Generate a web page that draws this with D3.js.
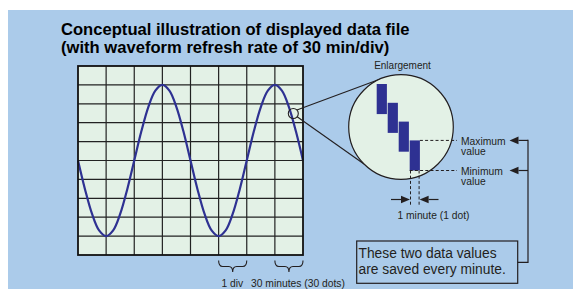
<!DOCTYPE html>
<html><head><meta charset="utf-8">
<script src="https://cdn.jsdelivr.net/npm/d3@7"></script>
<style>html,body{margin:0;padding:0;background:#fff;}svg{display:block;}</style>
</head><body>
<svg id="c" width="573" height="289"></svg>
<script>
// ---- data ----
const titleLines = ["Conceptual illustration of displayed data file", "(with waveform refresh rate of 30 min/div)"];
const gridCols = [0,1,2,3,4,5,6,7,8];
const gridRows = [-5,-4,-3,-2,-1,0,1,2,3,4,5];
const waveTime = [0,0.25,0.5,0.75,1,1.25,1.5,1.75,2,2.25,2.5,2.75,3,3.25,3.5,3.75,4,4.25,4.5,4.75,5,5.25,5.5,5.75,6,6.25,6.5,6.75,7,7.25,7.5,7.75,8];
const waveValue = [0,-1.53,-2.83,-3.7,-4,-3.7,-2.83,-1.53,0,1.53,2.83,3.7,4,3.7,2.83,1.53,0,-1.53,-2.83,-3.7,-4,-3.7,-2.83,-1.53,0,1.53,2.83,3.7,4,3.7,2.83,1.53,0];
const dotIndex = [0,1,2,3];
const dotMax = [4,3,2,1];
const dotMin = [2.4,1.4,0.4,-0.6];
const braceLabels = ["1 div", "30 minutes (30 dots)"];
const braceCols = [[5,6],[7,8]];
const boxLines = ["These two data values", "are saved every minute."];

// ---- drawing ----
const svg = d3.select("#c");
const ink = "#231f20", bg = "#abcbea", screen = "#e3f1e6", wave = "#2e3192";
const font = "Liberation Sans, Arial, sans-serif";

svg.append("rect").attr("x",8).attr("y",10).attr("width",565).attr("height",279).attr("fill",bg);

svg.selectAll("text.title").data(titleLines).join("text")
  .attr("x",61).attr("y",(d,i)=>34.7+i*18.7)
  .attr("font-family",font).attr("font-weight","bold")
  .attr("font-size",16.6).attr("fill","#000").text(d=>d);

const x = d3.scaleLinear().domain([0,8]).range([78,303]);
const y = d3.scaleLinear().domain([-5,5]).range([255,66]);

svg.append("rect").attr("x",x(0)).attr("y",y(5)).attr("width",x(8)-x(0)).attr("height",y(-5)-y(5)).attr("fill",screen);
svg.selectAll("line.v").data(gridCols.slice(1,-1)).join("line")
  .attr("x1",d=>x(d)).attr("x2",d=>x(d)).attr("y1",y(5)).attr("y2",y(-5))
  .attr("stroke","#222").attr("stroke-width",1.2);
svg.selectAll("line.h").data(gridRows.slice(1,-1)).join("line")
  .attr("y1",d=>y(d)).attr("y2",d=>y(d)).attr("x1",x(0)).attr("x2",x(8))
  .attr("stroke","#222").attr("stroke-width",1.2);

const line = d3.line().x((d,i)=>x(waveTime[i])).y(d=>y(d)).curve(d3.curveCatmullRom);
svg.append("path").attr("d",line(waveValue)).attr("fill","none").attr("stroke",wave).attr("stroke-width",2.2);

svg.append("rect").attr("x",x(0)).attr("y",y(5)).attr("width",x(8)-x(0)).attr("height",y(-5)-y(5))
  .attr("fill","none").attr("stroke","#111").attr("stroke-width",1.8);

// small circle and enlargement
const sc = {x:293.3, y:113.5, r:5};
const bc = {x:401, y:127, r:52.3};
const pt = (c,a,r)=>[c.x+(r??c.r)*Math.cos(a*Math.PI/180), c.y+(r??c.r)*Math.sin(a*Math.PI/180)];
[[-44,-114],[40,135]].forEach(([a1,a2])=>{
  const p1 = pt(sc,a1), p2 = pt(bc,a2);
  svg.append("line").attr("x1",p1[0]).attr("y1",p1[1]).attr("x2",p2[0]).attr("y2",p2[1]).attr("stroke",ink).attr("stroke-width",1.1);
});
svg.append("circle").attr("cx",sc.x).attr("cy",sc.y).attr("r",sc.r).attr("fill","none").attr("stroke",ink).attr("stroke-width",1.1);
svg.append("circle").attr("cx",bc.x).attr("cy",bc.y).attr("r",bc.r).attr("fill",screen).attr("stroke",ink).attr("stroke-width",1.2);

svg.append("text").attr("x",402.5).attr("y",69).attr("text-anchor","middle")
  .attr("font-family",font).attr("font-size",10).attr("fill",ink).text("Enlargement");

const ex = d3.scaleLinear().domain([0,3]).range([376.7,409.7]);
const ey = d3.scaleLinear().domain([-0.6,4]).range([170.5,84]);
const dotW = 10.2;
svg.selectAll("rect.dot").data(dotIndex).join("rect")
  .attr("x",d=>ex(d)).attr("width",dotW)
  .attr("y",d=>ey(dotMax[d])).attr("height",d=>ey(dotMin[d])-ey(dotMax[d]))
  .attr("fill",wave);

const last = dotIndex[dotIndex.length-1];
const xL = ex(last), xR = ex(last)+dotW;
const yMax = ey(dotMax[last]), yMin = ey(dotMin[last]);
const dash = "3,2.2";
svg.append("line").attr("x1",xR).attr("x2",457).attr("y1",yMax).attr("y2",yMax).attr("stroke",ink).attr("stroke-dasharray",dash).attr("stroke-width",1);
svg.append("line").attr("x1",xL).attr("x2",457).attr("y1",yMin).attr("y2",yMin).attr("stroke",ink).attr("stroke-dasharray",dash).attr("stroke-width",1);
[xL+0.8,xR-0.8].forEach(xx=>{
  svg.append("line").attr("x1",xx).attr("x2",xx).attr("y1",yMin).attr("y2",206).attr("stroke",ink).attr("stroke-dasharray",dash).attr("stroke-width",1);
});

function arrow(xTail, xTip, yy){
  const dir = Math.sign(xTip-xTail), L=9, W=3.8;
  svg.append("line").attr("x1",xTail).attr("x2",xTip-dir*L).attr("y1",yy).attr("y2",yy).attr("stroke",ink).attr("stroke-width",1.2);
  svg.append("path").attr("d",`M${xTip},${yy}L${xTip-dir*L},${yy-W}L${xTip-dir*L},${yy+W}Z`).attr("fill",ink);
}
arrow(391, xL+0.3, 199.5);
arrow(438.5, xR-0.3, 199.5);
svg.append("text").attr("x",433.5).attr("y",219).attr("text-anchor","middle")
  .attr("font-family",font).attr("font-size",10.3).attr("fill",ink).text("1 minute (1 dot)");

const sideText = [["Maximum","value"],["Minimum","value"]];
[yMax,yMin].forEach((yy,k)=>{
  const t = svg.append("text").attr("x",461).attr("y",yy+4.5)
    .attr("font-family",font).attr("font-size",10.3).attr("fill",ink);
  t.selectAll("tspan").data(sideText[k]).join("tspan").attr("x",461).attr("dy",(d,i)=>i===0?0:10).text(d=>d);
  arrow(528, 509.5, yy);
});
svg.append("path").attr("d",`M528,${yMax-0.6}V262.3H517.5`).attr("fill","none").attr("stroke",ink).attr("stroke-width",1.2);

svg.append("rect").attr("x",356.7).attr("y",241).attr("width",161).attr("height",42.3).attr("fill","none").attr("stroke",ink).attr("stroke-width",1.2);
const bt = svg.append("text").attr("x",358.5).attr("y",258.3)
  .attr("font-family",font).attr("font-size",13.8).attr("fill",ink);
bt.selectAll("tspan").data(boxLines).join("tspan").attr("x",358.5).attr("dy",(d,i)=>i===0?0:15.7).text(d=>d);

// braces
braceCols.forEach(([c0,c1])=>{
  const x0=x(c0), x1=x(c1), xm=(x0+x1)/2, y0=260.5, ym=266.5, yt=272, q=4;
  const p = `M${x0},${y0}Q${x0},${ym} ${x0+q},${ym}L${xm-q},${ym}Q${xm},${ym} ${xm},${yt}Q${xm},${ym} ${xm+q},${ym}L${x1-q},${ym}Q${x1},${ym} ${x1},${y0}`;
  svg.append("path").attr("d",p).attr("fill","none").attr("stroke",ink).attr("stroke-width",1.1);
});
svg.append("text").attr("x",232.3).attr("y",287).attr("text-anchor","middle")
  .attr("font-family",font).attr("font-size",10.3).attr("fill",ink).text(braceLabels[0]);
svg.append("text").attr("x",251).attr("y",287)
  .attr("font-family",font).attr("font-size",10.3).attr("fill",ink).text(braceLabels[1]);
</script>
</body></html>
